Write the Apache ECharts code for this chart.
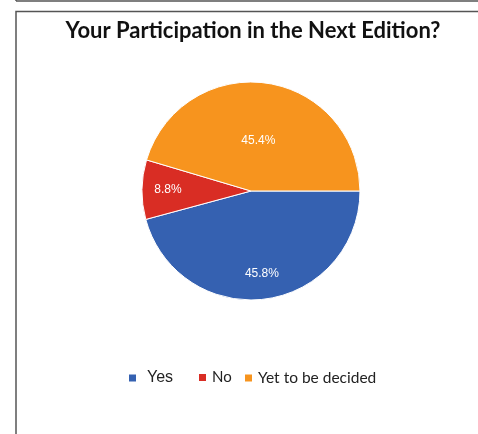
<!DOCTYPE html>
<html>
<head>
<meta charset="utf-8">
<script src="https://cdn.jsdelivr.net/npm/echarts@6/dist/echarts.min.js"></script>
<style>
html,body{margin:0;padding:0;background:#fff;}
#chart{width:478px;height:434px;}
</style>
</head>
<body>
<div id="chart"></div>
<script>
const titleText = 'Your Participation in the Next Edition?';
const categories = ['Yes', 'No', 'Yet to be decided'];
const values = [45.8, 8.8, 45.4];
const colors = ['#3561b1', '#d92d24', '#f7941e'];

const chart = echarts.init(document.getElementById('chart'));

function labelSeries(radius, showIdx) {
  return {
    type: 'pie',
    center: [251, 191],
    radius: radius,
    startAngle: 0,
    clockwise: true,
    silent: true,
    z: 3,
    data: categories.map((c, i) => ({
      name: c,
      value: values[i],
      itemStyle: { color: 'rgba(0,0,0,0)', borderWidth: 0 },
      label: { show: showIdx.indexOf(i) >= 0 }
    })),
    label: {
      position: 'inside',
      formatter: p => p.value.toFixed(1) + '%',
      color: '#fff',
      fontFamily: 'Liberation Sans',
      fontSize: 12
    },
    labelLine: { show: false }
  };
}

const legendPos = [
  { left: 122, font: 'Liberation Sans', size: 16, pad: [0,0,0,5] },
  { left: 192, font: 'Lato', size: 15, pad: [0,0,0,0] },
  { left: 238, font: 'Lato', size: 15.5, pad: [0,0,0,0] }
];

chart.setOption({
  animation: false,
  backgroundColor: '#fff',
  graphic: [
    { type: 'line', shape: { x1: 16, y1: 1, x2: 478, y2: 1 }, style: { stroke: '#555', lineWidth: 1.5 } },
    { type: 'line', shape: { x1: 16, y1: 0, x2: 16, y2: 1 }, style: { stroke: '#555', lineWidth: 1.5 } },
    { type: 'polyline', shape: { points: [[16, 434], [16, 11.5], [478, 11.5]] }, style: { stroke: '#555', lineWidth: 1.5, fill: null } },
    { type: 'text', x: 253, y: 31, style: { text: titleText, font: 'bold 22px Lato', fill: '#111', textAlign: 'center', textVerticalAlign: 'middle' } }
  ],
  legend: legendPos.map((p, i) => ({
    left: p.left,
    top: 365,
    itemWidth: 9,
    itemHeight: 9,
    icon: 'rect',
    selectedMode: false,
    data: [{ name: categories[i], itemStyle: { color: colors[i] } }],
    textStyle: { fontFamily: p.font, fontSize: p.size, color: '#222', padding: p.pad }
  })),
  series: [
    {
      type: 'pie',
      center: [251, 191],
      radius: 109,
      startAngle: 0,
      clockwise: true,
      silent: true,
      data: categories.map((c, i) => ({ name: c, value: values[i], itemStyle: { color: colors[i] } })),
      itemStyle: { borderColor: '#fff', borderWidth: 1 },
      label: { show: false },
      labelLine: { show: false }
    },
    labelSeries(160, [0, 1]),
    labelSeries(96, [2])
  ]
});
</script>
</body>
</html>
